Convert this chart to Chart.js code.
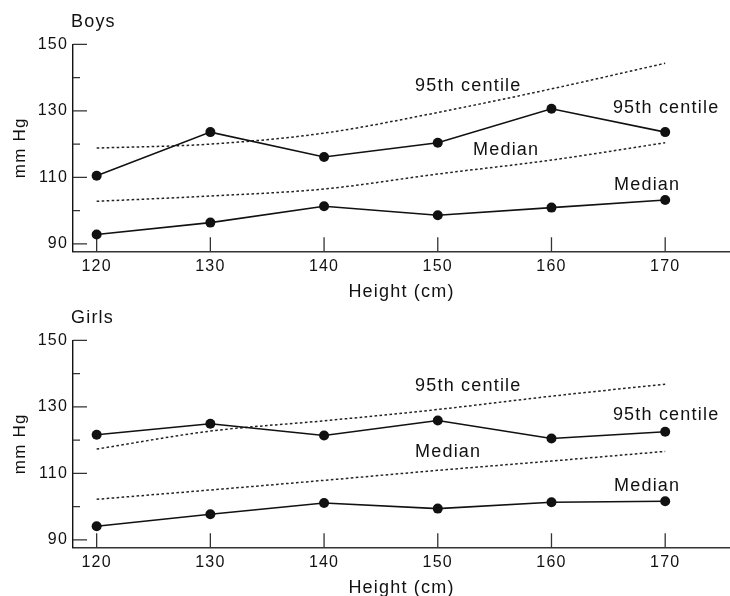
<!DOCTYPE html>
<html><head><meta charset="utf-8">
<script src="https://cdn.jsdelivr.net/npm/chart.js@4.4.1/dist/chart.umd.min.js"></script>
<style>
html,body{margin:0;padding:0;background:#fff;overflow:hidden;width:730px;height:596px;position:relative;}
canvas{position:absolute;left:0;}
#c1{top:0}
#c2{top:296px}
</style></head><body>
<canvas id="c1" width="730" height="310"></canvas>
<canvas id="c2" width="730" height="310"></canvas>
<script>
// ---- data ----
const heights = [120, 130, 140, 150, 160, 170];
const boysObserved95 = [110.5, 123.6, 116.1, 120.4, 130.6, 123.6];
const boysObservedMedian = [92.8, 96.4, 101.3, 98.6, 100.9, 103.2];
const boysReference95 = [118.8, 120.0, 123.3, 129.5, 136.6, 144.3];
const boysReferenceMedian = [102.8, 104.4, 106.5, 111.0, 115.2, 120.4];
const girlsObserved95 = [121.6, 124.9, 121.4, 125.9, 120.5, 122.5];
const girlsObservedMedian = [94.1, 97.7, 101.1, 99.4, 101.3, 101.6];
const girlsReference95 = [117.3, 122.7, 125.8, 129.2, 133.2, 136.8];
const girlsReferenceMedian = [102.2, 105.0, 107.9, 110.9, 113.7, 116.6];
const yTickLabels = [90, 110, 130, 150];
const yMinorTicks = [100, 120, 140];
const xTickLabels = [120, 130, 140, 150, 160, 170];
const curveNames = ['95th centile', 'Median'];

// label anchors in data units (height, mmHg)
const boysNotes = [
  {text: curveNames[0], x: 148.0, y: 137.5},
  {text: curveNames[0], x: 165.4, y: 130.8},
  {text: curveNames[1], x: 153.1, y: 118.3},
  {text: curveNames[1], x: 165.5, y: 107.7}
];
const girlsNotes = [
  {text: curveNames[0], x: 148.0, y: 136.2},
  {text: curveNames[0], x: 165.4, y: 127.5},
  {text: curveNames[1], x: 148.0, y: 116.3},
  {text: curveNames[1], x: 165.5, y: 106.3}
];

const FONT = '"Liberation Sans", Arial, sans-serif';
Chart.defaults.font.family = FONT;
Chart.defaults.color = '#111';

const INK = '#111';
const AXIS = '#333';
const SPACING = '1.2px';

function pts(ys) { return heights.map((h, i) => ({x: h, y: ys[i]})); }

function build(id, title, obs95, obsMed, ref95, refMed, notes) {
  const solid = {borderColor: INK, backgroundColor: INK, borderWidth: 1.6, pointRadius: 5,
    pointHoverRadius: 5, pointBorderWidth: 0, pointBackgroundColor: INK, tension: 0, fill: false};
  const dotted = {borderColor: '#222', borderWidth: 1.5, borderDash: [2.6, 2.4], pointRadius: 0,
    pointHoverRadius: 0, tension: 0.4, cubicInterpolationMode: 'monotone', fill: false};

  const decor = {
    id: 'decor' + id,
    beforeDraw(chart) {
      chart.ctx.letterSpacing = SPACING;
    },
    beforeDatasetsDraw(chart) {
      const {ctx, chartArea: a, scales: {x, y}} = chart;
      ctx.save();
      ctx.strokeStyle = AXIS;
      ctx.lineWidth = 1.3;
      ctx.beginPath();
      yTickLabels.forEach(v => { const p = y.getPixelForValue(v); ctx.moveTo(a.left, p); ctx.lineTo(a.left + 14, p); });
      yMinorTicks.forEach(v => { const p = y.getPixelForValue(v); ctx.moveTo(a.left, p); ctx.lineTo(a.left + 7, p); });
      xTickLabels.forEach(v => { const p = x.getPixelForValue(v); ctx.moveTo(p, a.bottom); ctx.lineTo(p, a.bottom - 14); });
      ctx.stroke();
      ctx.restore();
    },
    afterDraw(chart) {
      const {ctx, chartArea: a, scales: {x, y}} = chart;
      ctx.save();
      ctx.letterSpacing = SPACING;
      ctx.fillStyle = INK;
      ctx.font = '18px ' + FONT;
      ctx.textBaseline = 'middle';
      ctx.textAlign = 'left';
      ctx.fillText(title, a.left - 2, a.top - 22.5);
      notes.forEach(n => ctx.fillText(n.text, x.getPixelForValue(n.x), y.getPixelForValue(n.y)));
      ctx.restore();
    }
  };

  return new Chart(document.getElementById(id), {
    type: 'line',
    data: {
      datasets: [
        Object.assign({label: 'observed 95th', data: pts(obs95)}, solid),
        Object.assign({label: 'observed median', data: pts(obsMed)}, solid),
        Object.assign({label: 'reference 95th', data: pts(ref95)}, dotted),
        Object.assign({label: 'reference median', data: pts(refMed)}, dotted)
      ]
    },
    options: {
      responsive: false,
      animation: false,
      events: [],
      layout: {autoPadding: false, padding: {top: 44.3, left: 0, right: 0, bottom: 0}},
      plugins: {legend: {display: false}, tooltip: {enabled: false}, title: {display: false}},
      scales: {
        x: {
          type: 'linear', min: 117.92, max: 175.7,
          afterFit: s => { s.height = 58.8; s.paddingLeft = 0; s.paddingRight = 0; },
          grid: {display: true, drawOnChartArea: false, drawTicks: false},
          border: {display: true, color: AXIS, width: 1.4},
          ticks: {includeBounds: false, stepSize: 10, padding: 5.4, color: INK, font: {size: 16},
            maxRotation: 0, autoSkip: false,
            callback: v => xTickLabels.includes(v) ? String(v) : ''},
          title: {display: true, text: 'Height (cm)', color: INK, font: {size: 18},
            padding: {top: 0, bottom: 7.2}}
        },
        y: {
          type: 'linear', min: 87.8, max: 150,
          afterFit: s => { s.width = 73; },
          grid: {display: true, drawOnChartArea: false, drawTicks: false},
          border: {display: true, color: INK, width: 1.4},
          ticks: {includeBounds: false, stepSize: 10, padding: 5, color: INK, font: {size: 16},
            autoSkip: false,
            callback: v => yTickLabels.includes(v) ? String(v) : ''},
          title: {display: true, text: 'mm Hg', color: INK, font: {size: 17},
            padding: {top: 10.3, bottom: 0}}
        }
      }
    },
    plugins: [decor]
  });
}

build('c1', 'Boys', boysObserved95, boysObservedMedian, boysReference95, boysReferenceMedian, boysNotes);
build('c2', 'Girls', girlsObserved95, girlsObservedMedian, girlsReference95, girlsReferenceMedian, girlsNotes);
</script>
</body></html>
